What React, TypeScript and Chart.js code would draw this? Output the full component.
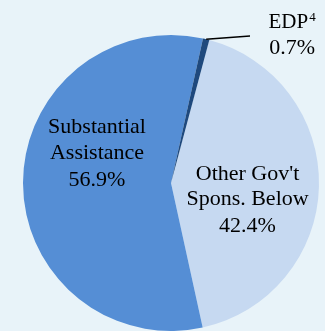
import React, { useEffect, useRef } from "react";
import { Chart, registerables } from "chart.js";

Chart.register(...registerables);

const categories = ["Other Gov't Spons. Below", "Substantial Assistance", "EDP"];
const values = [42.4, 56.9, 0.7];
const labelLines = [
  ["Other Gov't", "Spons. Below", "42.4%"],
  ["Substantial", "Assistance", "56.9%"],
  ["EDP", "0.7%"],
];
const colors = ["#c6d9f1", "#558ed5", "#1f497d"];
const BG = "#e8f3f9";
const FONT = '"Liberation Serif", "Times New Roman", serif';

const labelPlugin = {
  id: "pieLabels",
  beforeDraw(chart: any) {
    const { ctx, width, height } = chart;
    ctx.save();
    ctx.fillStyle = BG;
    ctx.fillRect(0, 0, width, height);
    ctx.restore();
  },
  afterDraw(chart: any) {
    const { ctx } = chart;
    const meta = chart.getDatasetMeta(0);
    const arc0 = meta.data[0];
    const cx = arc0.x;
    const cy = arc0.y;
    const r = arc0.outerRadius;
    ctx.save();
    ctx.fillStyle = "#000";
    ctx.textAlign = "center";
    ctx.textBaseline = "alphabetic";
    ctx.font = `22px ${FONT}`;
    // Other Gov't
    const oX = cx + 0.517 * r;
    const oY = [-0.02, 0.149, 0.331];
    labelLines[0].forEach((t, i) => ctx.fillText(t, oX, cy + oY[i] * r));
    // Substantial
    const sX = cx - 0.5 * r;
    const sY = [-0.338, -0.162, 0.02];
    labelLines[1].forEach((t, i) => ctx.fillText(t, sX, cy + sY[i] * r));
    // EDP leader line
    const a2 = meta.data[2];
    const mid = (a2.startAngle + a2.endAngle) / 2;
    const px = cx + Math.cos(mid) * r;
    const py = cy + Math.sin(mid) * r;
    ctx.strokeStyle = "#000";
    ctx.lineWidth = 1.5;
    ctx.beginPath();
    ctx.moveTo(px, py);
    ctx.lineTo(cx + 0.534 * r, cy - 0.993 * r);
    ctx.stroke();
    // EDP label with superscript
    const eX = cx + 0.818 * r;
    ctx.font = `21px ${FONT}`;
    const wMain = ctx.measureText(labelLines[2][0]).width;
    ctx.font = `13px ${FONT}`;
    const wSup = ctx.measureText("4").width;
    const total = wMain + wSup + 1;
    const startX = eX - total / 2;
    const eY = cy - 1.047 * r;
    ctx.textAlign = "left";
    ctx.font = `21px ${FONT}`;
    ctx.fillText(labelLines[2][0], startX, eY);
    ctx.font = `13px ${FONT}`;
    ctx.fillText("4", startX + wMain + 1, eY - 7);
    ctx.textAlign = "center";
    ctx.font = `22px ${FONT}`;
    ctx.fillText(labelLines[2][1], eX, cy - 0.872 * r);
    ctx.restore();
  },
};

export default function App() {
  const ref = useRef<HTMLCanvasElement | null>(null);
  useEffect(() => {
    document.body.style.margin = "0";
    document.body.style.background = BG;
    const chart = new Chart(ref.current as HTMLCanvasElement, {
      type: "pie",
      data: {
        labels: categories,
        datasets: [
          {
            data: values,
            backgroundColor: colors,
            borderWidth: 0,
          },
        ],
      },
      options: {
        animation: false,
        responsive: false,
        rotation: 15,
        layout: { padding: { left: 23, right: 6, top: 35, bottom: 0 } },
        plugins: {
          legend: { display: false },
          tooltip: { enabled: false },
        },
      },
      plugins: [labelPlugin],
    });
    return () => chart.destroy();
  }, []);
  return (
    <div style={{ position: "fixed", left: 0, top: 0, width: 325, height: 331, background: BG }}>
      <canvas ref={ref} width={325} height={331} style={{ width: 325, height: 331, display: "block" }} />
    </div>
  );
}
